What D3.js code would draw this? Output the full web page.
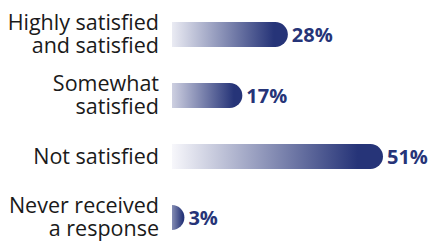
<!DOCTYPE html>
<html>
<head>
<meta charset="utf-8">
<script src="https://cdn.jsdelivr.net/npm/d3@7"></script>
<style>
  html, body { margin: 0; padding: 0; background: #fff; }
  svg { display: block; font-family: "Open Sans", "Noto Sans", sans-serif; }
</style>
</head>
<body>
<div id="chart"></div>
<script>
const categories = ["Highly satisfied|and satisfied", "Somewhat|satisfied", "Not satisfied", "Never received|a response"];
const values = [28, 17, 51, 3];

const width = 432, height = 244;
const left = 172;
const navy = "#263478";

const svg = d3.select("#chart").append("svg")
    .attr("width", width)
    .attr("height", height);

const x = d3.scaleLinear().domain([0, 51]).range([0, 211]);
const y = d3.scaleBand().domain(categories).range([4, 248])
    .paddingInner(0.59).paddingOuter(0.295);

const r = y.bandwidth() / 2;

// lighter start colour for longer bars
const startColor = len => d3.interpolateRgb("#f7f7fb", navy)(0.65 * Math.pow(Math.max(0, 1 - len / 215), 3));

const defs = svg.append("defs");
values.forEach((v, i) => {
    const g = defs.append("linearGradient")
        .attr("id", "grad" + i)
        .attr("x1", "0%").attr("x2", "100%").attr("y1", "0%").attr("y2", "0%");
    g.append("stop").attr("offset", "0%").attr("stop-color", startColor(x(v)));
    g.append("stop").attr("offset", "88%").attr("stop-color", navy);
    g.append("stop").attr("offset", "100%").attr("stop-color", navy);
});

function barPath(len, h) {
    const rr = Math.min(h / 2, len);
    return `M0,0 H${len - rr} A${rr},${h / 2} 0 0 1 ${len - rr},${h} H0 Z`;
}

const rows = svg.selectAll(".row")
    .data(categories.map((c, i) => ({ c, v: values[i], i })))
    .enter().append("g")
    .attr("transform", d => `translate(${left},${y(d.c)})`);

rows.append("path")
    .attr("d", d => barPath(x(d.v), y.bandwidth()))
    .attr("fill", d => `url(#grad${d.i})`);

rows.append("text")
    .attr("x", d => x(d.v) + 4)
    .attr("y", r)
    .attr("dy", "0.36em")
    .style("font-size", "20px")
    .style("font-weight", "700")
    .style("fill", navy)
    .text(d => d.v + "%");

// one text per label line
rows.each(function(d) {
    const lines = d.c.split("|");
    const lh = 23;
    const g = d3.select(this);
    lines.forEach((ln, k) => {
        g.append("text")
            .attr("x", -13)
            .attr("y", r + 7 + (k - (lines.length - 1) / 2) * lh)
            .style("font-size", "21.5px")
            .style("fill", "#1a1a1a")
            .style("text-anchor", "end")
            .text(ln);
    });
});
</script>
</body>
</html>
